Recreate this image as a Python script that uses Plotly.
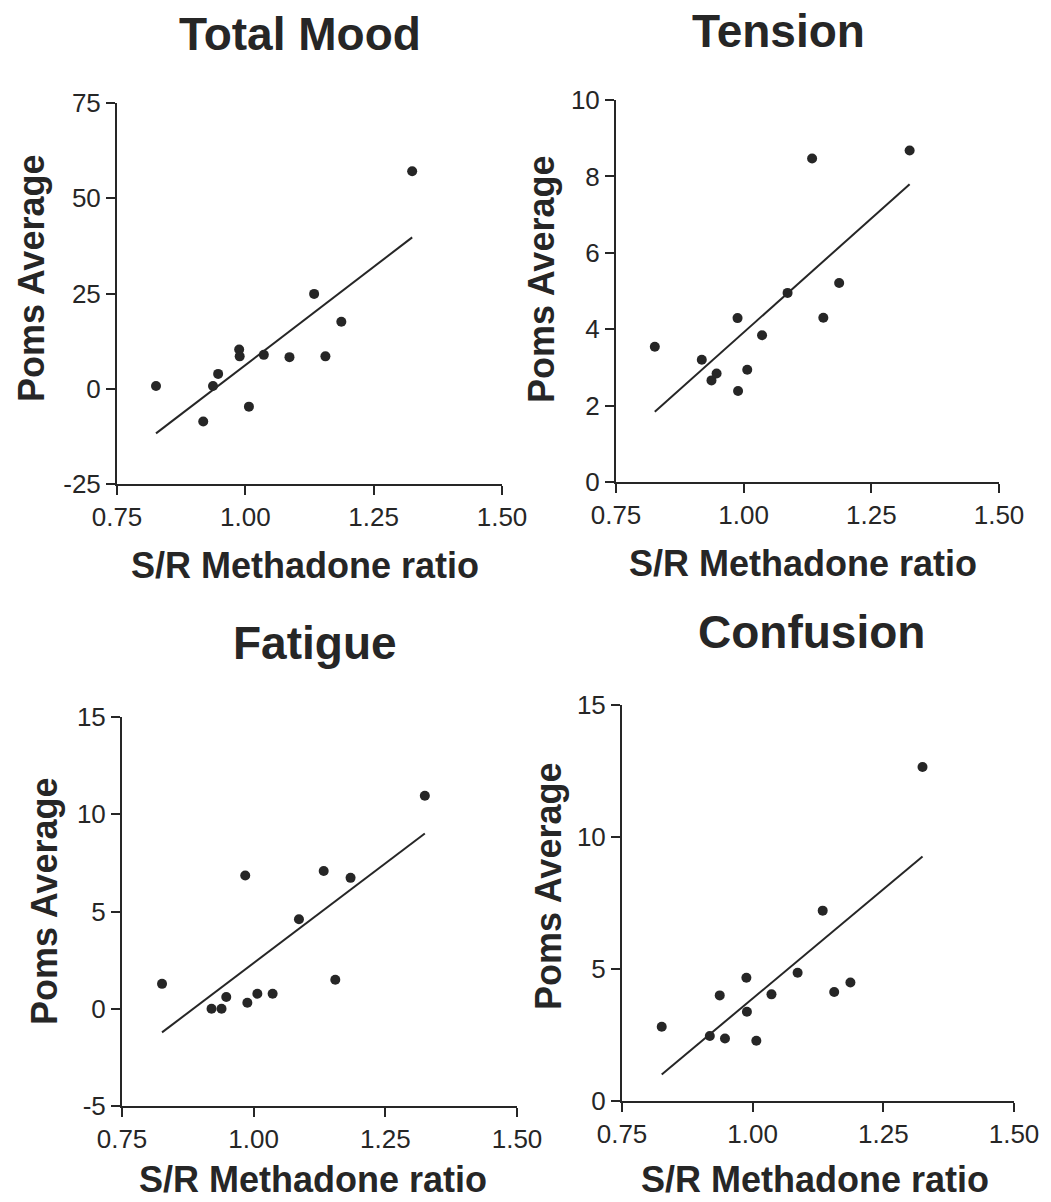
import numpy as np
import plotly.graph_objects as go

# ---------------- data ----------------
sr_ratio = [0.826, 0.918, 0.937, 0.947, 0.988, 0.989, 1.007, 1.036, 1.086, 1.134, 1.156, 1.187, 1.325]

total_mood = [0.7, -8.6, 0.7, 3.9, 10.3, 8.5, -4.7, 8.9, 8.3, 24.9, 8.5, 17.6, 57.1]
tension    = [3.54, 3.20, 2.66, 2.84, 4.29, 2.38, 2.94, 3.84, 4.95, 8.47, 4.30, 5.21, 8.68]
fatigue_x  = [0.826, 0.920, 0.939, 0.948, 0.984, 0.988, 1.007, 1.036, 1.086, 1.133, 1.155, 1.184, 1.325]
fatigue    = [1.28, 0.0, 0.0, 0.6, 6.85, 0.31, 0.77, 0.77, 4.6, 7.08, 1.49, 6.73, 10.95]
confusion  = [2.81, 2.46, 4.0, 2.37, 4.67, 3.38, 2.28, 4.04, 4.86, 7.21, 4.13, 4.49, 12.65]

panel_titles = ["Total Mood", "Tension", "Fatigue", "Confusion"]
x_ticks = [0.75, 1.00, 1.25, 1.50]
x_ticklabels = ["0.75", "1.00", "1.25", "1.50"]
y_ticks = [
    [-25, 0, 25, 50, 75],
    [0, 2, 4, 6, 8, 10],
    [-5, 0, 5, 10, 15],
    [0, 5, 10, 15],
]
y_ticklabels = [
    ["-25", "0", "25", "50", "75"],
    ["0", "2", "4", "6", "8", "10"],
    ["-5", "0", "5", "10", "15"],
    ["0", "5", "10", "15"],
]
y_ranges = [[-25, 75], [0, 10], [-5, 15], [0, 15]]
x_title = "S/R Methadone ratio"
y_title = "Poms Average"

series_x = [sr_ratio, sr_ratio, fatigue_x, sr_ratio]
series_y = [total_mood, tension, fatigue, confusion]

# ---------------- layout geometry (pixels) ----------------
W, H = 1051, 1202
# plot boxes: (left, right, top, bottom) in pixels
boxes = [
    (117, 502, 103, 484),
    (616, 999, 100, 482),
    (122, 517, 717, 1106),
    (622, 1014, 705, 1101),
]
title_pos = [(300, 34), (778, 31), (315, 643), (811, 632)]
# x-title: (x center, y center or None -> anchored at bottom edge)
xtitle_pos = [(305, 565), (803, 563), (313, None), (815, None)]
ytitle_pos = [(31, 279), (541, 280), (44, 902), (548, 887)]

INK = "#262626"
FONT = "Liberation Sans, Arial, sans-serif"

fig = go.Figure()
layout = dict(
    width=W, height=H,
    margin=dict(l=0, r=0, t=0, b=0, pad=0),
    paper_bgcolor="white", plot_bgcolor="white",
    showlegend=False,
    annotations=[],
)

for i in range(4):
    xs = np.array(series_x[i], dtype=float)
    ys = np.array(series_y[i], dtype=float)
    xa = "x" if i == 0 else f"x{i+1}"
    ya = "y" if i == 0 else f"y{i+1}"

    fig.add_trace(go.Scatter(
        x=xs, y=ys, mode="markers", xaxis=xa, yaxis=ya,
        marker=dict(size=10, color=INK, line=dict(width=0)),
    ))
    slope, intercept = np.polyfit(xs, ys, 1)
    lx = np.array([xs.min(), xs.max()])
    fig.add_trace(go.Scatter(
        x=lx, y=slope * lx + intercept, mode="lines", xaxis=xa, yaxis=ya,
        line=dict(color=INK, width=2),
    ))

    l, r, t, b = boxes[i]
    xkey = "xaxis" if i == 0 else f"xaxis{i+1}"
    ykey = "yaxis" if i == 0 else f"yaxis{i+1}"
    layout[xkey] = dict(
        domain=[l / W, r / W], range=[0.75, 1.5], anchor=ya, automargin=False,
        tickmode="array", tickvals=x_ticks, ticktext=x_ticklabels,
        showgrid=False, zeroline=False, showline=True, linecolor=INK, linewidth=2,
        ticks="outside", ticklen=9, tickwidth=2, tickcolor=INK,
        tickfont=dict(family=FONT, size=26, color=INK),
    )
    layout[ykey] = dict(
        domain=[1 - b / H, 1 - t / H], range=y_ranges[i], anchor=xa, automargin=False,
        tickmode="array", tickvals=y_ticks[i], ticktext=y_ticklabels[i],
        showgrid=False, zeroline=False, showline=True, linecolor=INK, linewidth=2,
        ticks="outside", ticklen=9, tickwidth=2, tickcolor=INK,
        tickfont=dict(family=FONT, size=26, color=INK),
    )

    tx, ty = title_pos[i]
    layout["annotations"].append(dict(
        text=f"<b>{panel_titles[i]}</b>", x=tx / W, y=1 - ty / H,
        xref="paper", yref="paper", xanchor="center", yanchor="middle",
        showarrow=False, font=dict(family=FONT, size=46, color=INK),
    ))
    ax_, ay_ = xtitle_pos[i]
    if ay_ is None:
        yy, yanc = 0, "bottom"
    else:
        yy, yanc = 1 - ay_ / H, "middle"
    layout["annotations"].append(dict(
        text=f"<b>{x_title}</b>", x=ax_ / W, y=yy,
        xref="paper", yref="paper", xanchor="center", yanchor=yanc,
        showarrow=False, font=dict(family=FONT, size=36, color=INK),
    ))
    bx, by = ytitle_pos[i]
    layout["annotations"].append(dict(
        text=f"<b>{y_title}</b>", x=bx / W, y=1 - by / H, textangle=-90,
        xref="paper", yref="paper", xanchor="center", yanchor="middle",
        showarrow=False, font=dict(family=FONT, size=36, color=INK),
    ))

fig.update_layout(**layout)
fig.write_html("out.html")
